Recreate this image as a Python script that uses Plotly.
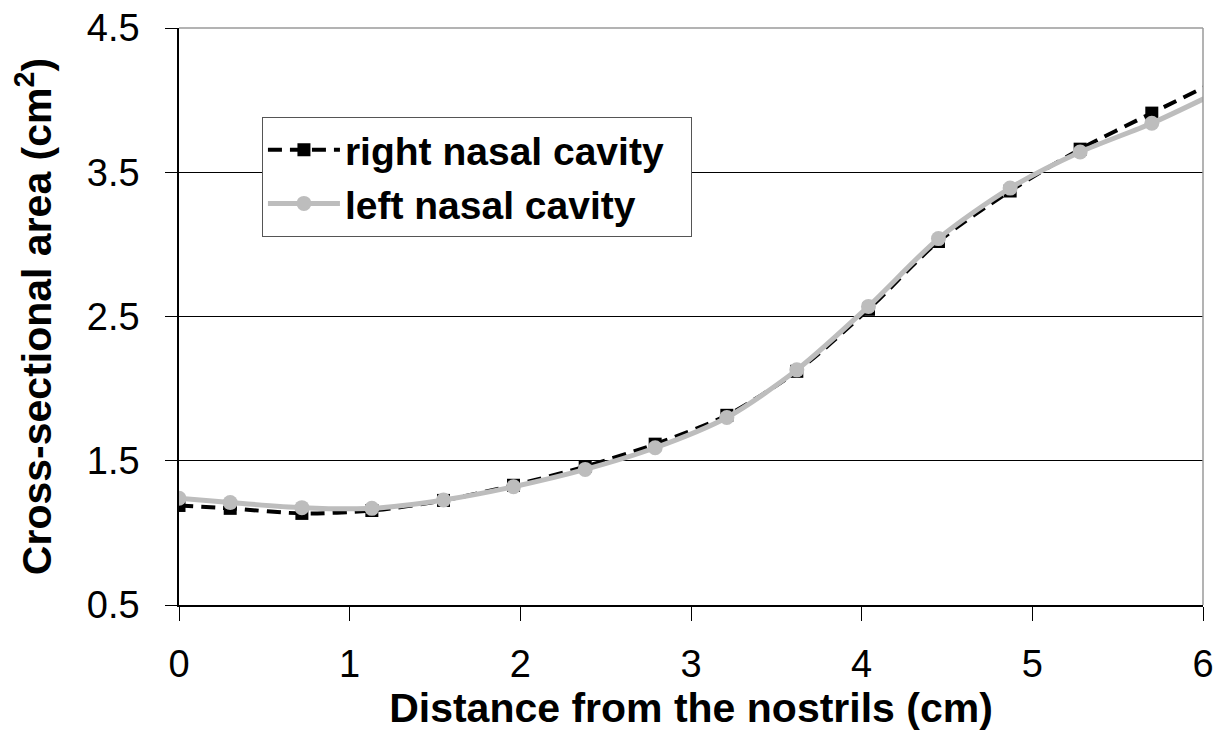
import plotly.graph_objects as go

distance_cm = [0, 0.3, 0.72, 1.13, 1.55, 1.96, 2.38, 2.79, 3.21, 3.62, 4.04, 4.45, 4.87, 5.28, 5.70, 6.11]
right_area = [1.19, 1.17, 1.135, 1.155, 1.225, 1.33, 1.46, 1.615, 1.815, 2.12, 2.55, 3.02, 3.37, 3.66, 3.91, 4.15]
left_area = [1.24, 1.21, 1.175, 1.17, 1.228, 1.32, 1.44, 1.59, 1.80, 2.13, 2.57, 3.04, 3.39, 3.64, 3.84, 4.07]

series_names = ["right nasal cavity", "left nasal cavity"]

x_ticks = [0, 1, 2, 3, 4, 5, 6]
y_ticks = [0.5, 1.5, 2.5, 3.5, 4.5]

FONT = "Liberation Sans, Arial, sans-serif"
PAD = "\u00a0\u00a0"

fig = go.Figure()
fig.add_trace(go.Scatter(
    x=distance_cm, y=right_area, name=series_names[0] + PAD,
    mode="lines+markers", legendgroup="r",
    line=dict(color="black", width=4, dash="14px,8px", shape="spline", smoothing=0.8),
    marker=dict(symbol="square", size=13, color="black"),
))
fig.add_trace(go.Scatter(
    x=distance_cm, y=left_area, name=series_names[1] + PAD,
    mode="lines+markers", legendgroup="l",
    line=dict(color="#BDBDBD", width=5, shape="spline", smoothing=0.8),
    marker=dict(symbol="circle", size=15, color="#BDBDBD"),
))

fig.update_layout(
    width=1220, height=729,
    margin=dict(l=171, r=25, t=20, b=132),
    paper_bgcolor="white", plot_bgcolor="white",
    font=dict(family=FONT, color="black", size=36),
    showlegend=True,
    legend=dict(
        x=0.081, y=0.846, xanchor="left", yanchor="top",
        bgcolor="white", bordercolor="#555555", borderwidth=1,
        font=dict(size=39, family=FONT, weight="bold"),
        tracegroupgap=0, traceorder="grouped",
        itemwidth=72,
    ),
    xaxis=dict(
        range=[0, 6], tickvals=x_ticks, ticktext=[str(v) for v in x_ticks],
        showgrid=False, zeroline=False, automargin=False,
        showline=True, linecolor="black", linewidth=1.5,
        ticks="outside", ticklen=14, tickcolor="black", tickwidth=1,
        ticklabelstandoff=11, ticklabeloverflow="allow",
        tickfont=dict(size=38, family=FONT),
        title=dict(text="<b>Distance from the nostrils (cm)</b>", font=dict(size=41, family=FONT), standoff=3),
    ),
    yaxis=dict(
        range=[0.5, 4.5], tickvals=y_ticks, ticktext=[str(v) for v in y_ticks],
        showgrid=True, gridcolor="black", gridwidth=1, zeroline=False, automargin=False,
        showline=True, linecolor="black", linewidth=1.5,
        ticks="outside", ticklen=12, tickcolor="black", tickwidth=1,
        ticklabelstandoff=18, ticklabeloverflow="allow",
        tickfont=dict(size=38, family=FONT),
        title=dict(text="<b>Cross-sectional area (cm<sup>2</sup>)</b>", font=dict(size=41, family=FONT), standoff=30),
    ),
    shapes=[dict(type="line", xref="paper", yref="paper", x0=0, x1=1, y0=1, y1=1,
                 line=dict(color="#9A9A9A", width=1.5), layer="above"),
            dict(type="line", xref="paper", yref="paper", x0=1, x1=1, y0=0, y1=1,
                 line=dict(color="#9A9A9A", width=1.5), layer="above")],
)

fig.write_html("out.html")
